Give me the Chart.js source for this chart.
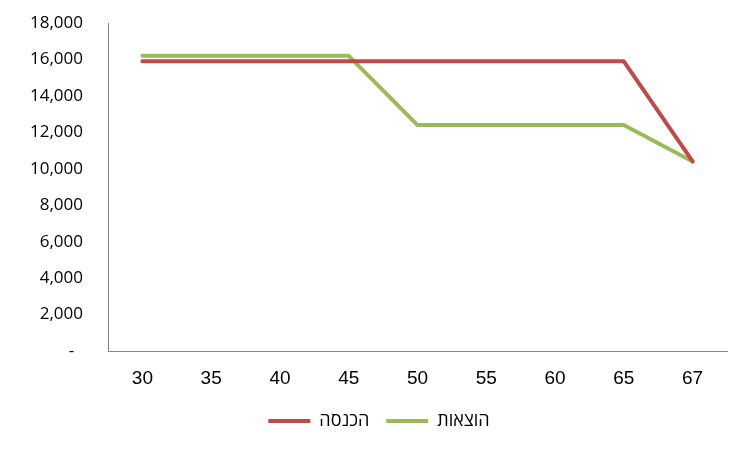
<!DOCTYPE html>
<html>
<head>
<meta charset="utf-8">
<script src="https://cdn.jsdelivr.net/npm/chart.js@4"></script>
<style>
  html, body { margin: 0; padding: 0; background: #fff; }
  #wrap { width: 752px; height: 452px; }
</style>
</head>
<body>
<div id="wrap"><canvas id="chart"></canvas></div>
<script>
const ages = ['30', '35', '40', '45', '50', '55', '60', '65', '67'];
const income = [15900, 15900, 15900, 15900, 15900, 15900, 15900, 15900, 10400];
const expenses = [16200, 16200, 16200, 16200, 12400, 12400, 12400, 12400, 10400];
const yTicks = [0, 2000, 4000, 6000, 8000, 10000, 12000, 14000, 16000, 18000];

const red = '#BE4B48';
const green = '#9BBB59';
const axisColor = '#868686';

const ctx = document.getElementById('chart');

new Chart(ctx, {
    type: 'line',
    data: {
        labels: ages,
        datasets: [{
            label: 'הכנסה',
            data: income,
            borderColor: red,
            backgroundColor: red,
            borderWidth: 4,
            pointRadius: 0,
            tension: 0,
            borderCapStyle: 'round',
            borderJoinStyle: 'round'
        }, {
            label: 'הוצאות',
            data: expenses,
            borderColor: green,
            backgroundColor: green,
            borderWidth: 4,
            pointRadius: 0,
            tension: 0,
            borderCapStyle: 'round',
            borderJoinStyle: 'round'
        }]
    },
    options: {
        responsive: true,
        maintainAspectRatio: false,
        animation: false,
        layout: { padding: { top: 23, right: 25, left: 31, bottom: 12 } },
        plugins: {
            tooltip: { enabled: false },
            legend: {
                position: 'bottom',
                labels: {
                    usePointStyle: true,
                    pointStyle: 'line',
                    pointStyleWidth: 42,
                    padding: 17,
                    color: '#000',
                    font: { family: "'Open Sans', 'DejaVu Sans', sans-serif", size: 18 }
                }
            }
        },
        scales: {
            x: {
                grid: { display: false, drawTicks: false },
                border: { display: true, color: axisColor, width: 1 },
                offset: true,
                ticks: {
                    color: '#000',
                    padding: 16,
                    maxRotation: 0,
                    font: { family: "'Liberation Sans', Arial, sans-serif", size: 19 }
                },
                afterFit: function (scale) { scale.height = 44; }
            },
            y: {
                min: 0,
                max: 18000,
                grid: { display: false, drawTicks: false },
                border: { display: true, color: axisColor, width: 1 },
                afterBuildTicks: function (scale) {
                    scale.ticks = yTicks.map(v => ({ value: v }));
                },
                afterFit: function (scale) {
                    scale.width = 77;
                    scale.paddingTop = 10;
                    scale.paddingBottom = 10;
                },
                ticks: {
                    color: '#000',
                    padding: 25,
                    font: { family: "'Open Sans', sans-serif", size: 17 },
                    callback: function (v) {
                        return v === 0 ? '-  ' : v.toLocaleString('en-US');
                    }
                }
            }
        }
    }
});
</script>
</body>
</html>
